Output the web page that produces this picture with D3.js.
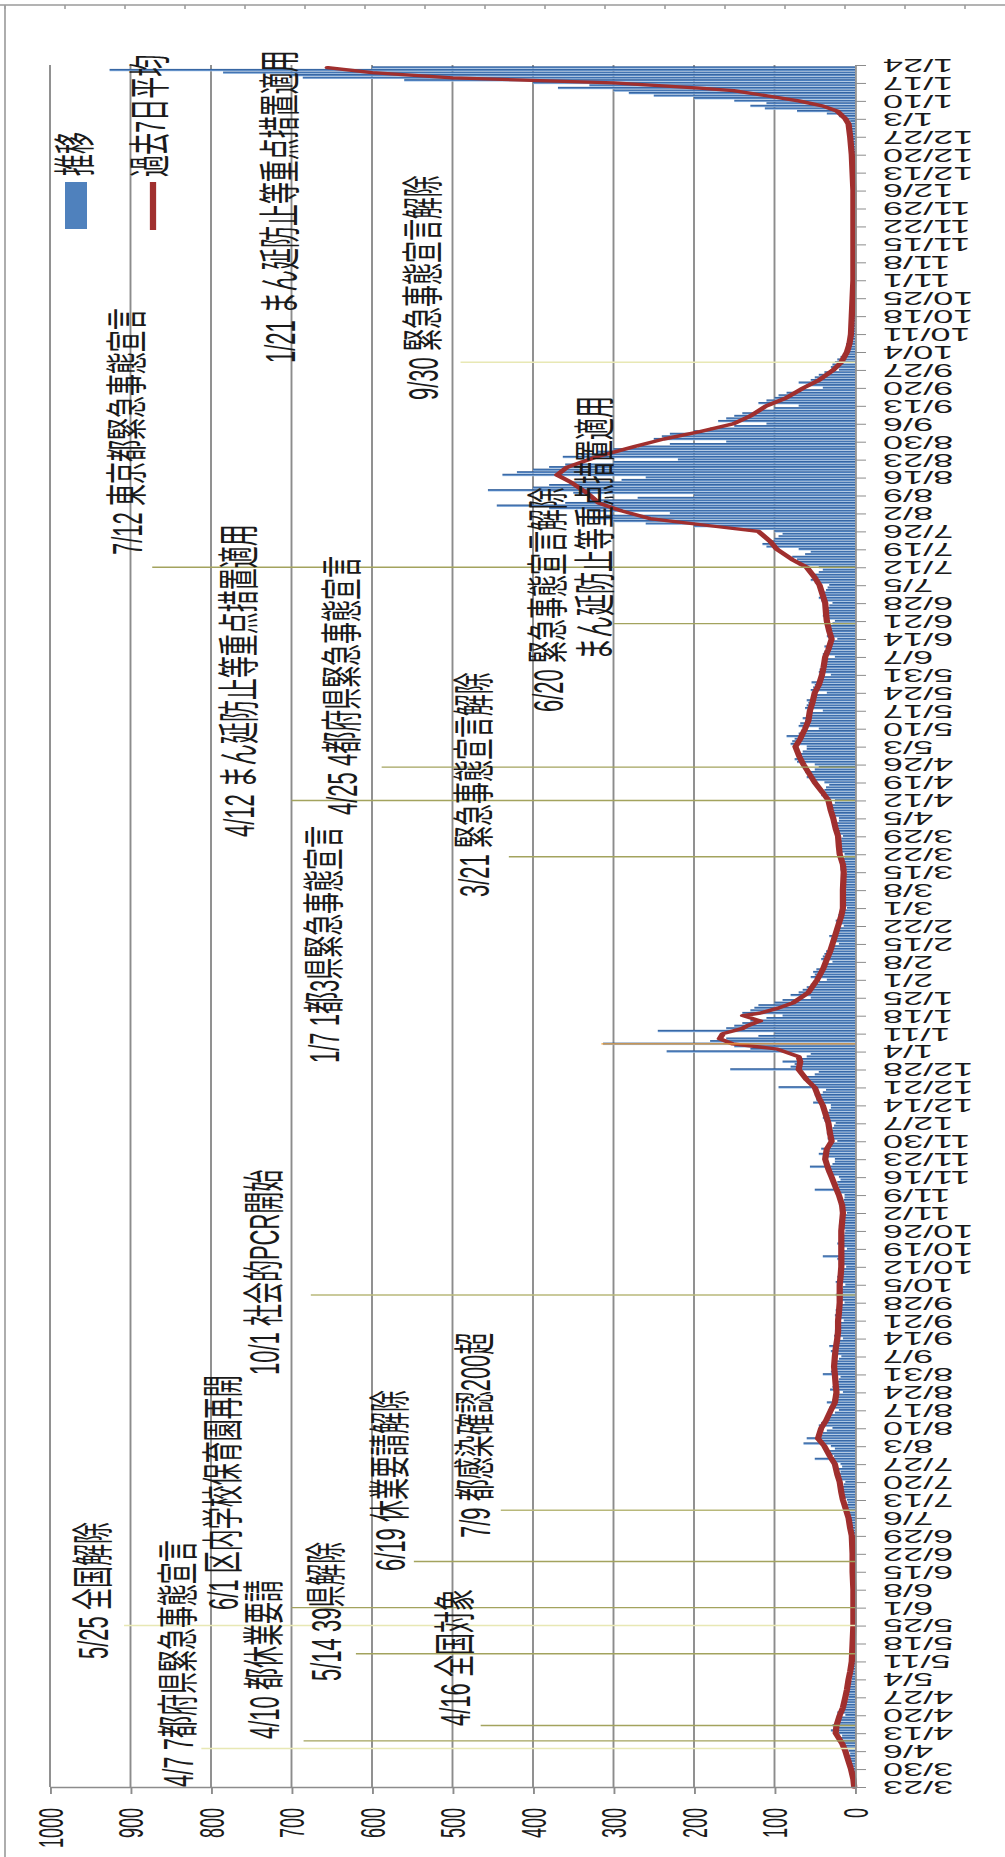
<!DOCTYPE html>
<html><head><meta charset="utf-8">
<script src="https://cdn.jsdelivr.net/npm/d3@7"></script>
<style>body{margin:0;background:#fff}</style>
</head><body>
<svg id="c" width="1005" height="1857"></svg>
<script>
// ---------- DATA ----------
const dailyStart = "2020-03-23";
const dailyCases = [
1,2,1,3,4,2,3, 2,5,6,8,7,9,6, 8,12,15,14,22,18,16, 20,30,26,28,22,19,18, 12,22,19,16,15,12,9,
8,12,10,9,11,7,6, 4,6,8,7,5,6,4, 3,5,4,3,4,2,3, 2,3,2,4,2,1,2, 1,2,3,1,2,2,1,
2,1,3,2,1,3,2, 1,3,2,2,3,1,2, 2,3,4,2,3,4,3, 2,4,3,5,3,4,3, 3,6,5,7,6,8,5,
5,10,9,12,11,13,9, 10,16,18,15,20,17,14, 12,22,20,24,18,21,16, 18,28,50,26,34,32,25, 30,64,45,60,48,40,35,
28,45,42,38,36,30,25, 20,32,30,35,28,25,22, 15,31,28,24,22,20,18, 40,30,28,26,27,24,20, 17,28,30,26,32,22,20,
15,26,24,25,20,22,18, 14,20,25,22,24,21,17, 13,22,20,24,18,20,15, 12,24,20,22,18,21,16, 11,20,18,22,40,15,14,
10,19,22,18,16,18,13, 12,18,20,16,19,17,14, 10,16,14,20,15,14,13, 13,22,50,20,25,22,18, 20,32,35,30,56,28,25,
25,40,45,38,42,35,30, 22,34,30,35,32,28,26, 24,38,40,36,38,32,30, 30,52,48,44,50,40,36, 95,55,60,58,62,50,45,
155,80,75,90,70,60,55, 234,130,150,313,180,160,120, 100,245,160,150,140,130,110, 90,140,130,125,120,100,90, 55,80,70,65,60,55,45,
35,55,50,52,48,40,38, 28,42,40,38,36,32,30, 20,30,28,32,27,25,22, 14,22,24,20,21,18,16, 10,17,16,18,15,14,12,
11,16,18,15,17,14,13, 10,18,16,15,17,14,13, 13,20,22,19,21,20,17, 15,24,26,22,25,23,20, 20,30,32,28,31,30,25,
25,38,42,40,38,36,32, 38,55,60,58,62,50,45, 50,72,75,70,68,65,60, 60,80,78,75,85,70,62, 45,70,68,62,65,58,55,
40,62,60,58,60,52,48, 35,55,52,50,54,46,42, 30,45,44,42,40,38,35, 25,40,38,36,38,34,30, 22,35,34,32,33,30,28,
25,38,40,36,38,34,32, 28,42,45,40,42,36,34, 32,50,55,52,50,45,40, 45,70,75,72,78,62,55, 70,110,115,105,100,95,90,
100,150,200,260,300,330,310, 230,330,380,445,360,330,270, 200,350,456,400,380,350,290, 260,438,420,400,380,360,300, 220,363,340,320,300,270,230,
160,250,240,230,200,180,150, 110,170,160,150,140,120,100, 70,120,110,100,95,85,70, 40,60,70,55,50,45,38, 20,30,28,25,22,18,15,
8,12,10,11,9,8,6, 4,6,5,7,5,4,3, 3,4,5,3,4,3,2, 2,3,4,3,2,3,2, 1,3,2,2,3,2,1,
2,2,3,1,2,2,1, 1,2,2,3,1,2,1, 1,2,1,2,3,1,2, 2,1,3,2,2,3,1, 1,2,2,3,2,1,2,
2,3,2,2,4,3,2, 3,4,5,4,6,5,4, 5,6,8,10,9,7,6, 12,20,35,72,112,130,110, 150,200,250,281,300,369,330,
400,560,686,700,785,926,600
];

const avgDates = [
"2020-03-23","2020-03-26","2020-03-30","2020-04-02","2020-04-06","2020-04-09","2020-04-13","2020-04-16","2020-04-20","2020-04-23",
"2020-04-27","2020-04-30","2020-05-04","2020-05-07","2020-05-11","2020-05-18","2020-05-25","2020-06-01","2020-06-08","2020-06-15",
"2020-06-22","2020-06-29","2020-07-02","2020-07-06","2020-07-09","2020-07-13","2020-07-16","2020-07-20","2020-07-23","2020-07-27",
"2020-07-30","2020-08-03","2020-08-06","2020-08-10","2020-08-13","2020-08-17","2020-08-20","2020-08-24","2020-08-27","2020-08-31",
"2020-09-03","2020-09-07","2020-09-10","2020-09-14","2020-09-17","2020-09-21","2020-09-24","2020-09-28","2020-10-01","2020-10-05",
"2020-10-08","2020-10-12","2020-10-19","2020-10-26","2020-11-02","2020-11-05","2020-11-09","2020-11-12","2020-11-16","2020-11-19",
"2020-11-23","2020-11-27","2020-11-30","2020-12-03","2020-12-07","2020-12-10","2020-12-14","2020-12-17","2020-12-21","2020-12-24",
"2020-12-28","2020-12-31",
"2021-01-02","2021-01-05","2021-01-07","2021-01-09","2021-01-11","2021-01-13","2021-01-14","2021-01-16","2021-01-18","2021-01-19",
"2021-01-21","2021-01-23","2021-01-27","2021-02-01","2021-02-05","2021-02-09","2021-02-12","2021-02-15","2021-02-19","2021-02-22",
"2021-02-26","2021-03-01","2021-03-08","2021-03-15","2021-03-18","2021-03-22","2021-03-25","2021-03-29","2021-04-01","2021-04-05",
"2021-04-08","2021-04-12","2021-04-15","2021-04-19","2021-04-22","2021-04-26","2021-04-29","2021-05-03","2021-05-06","2021-05-10",
"2021-05-13","2021-05-17","2021-05-20","2021-05-24","2021-05-27","2021-05-31","2021-06-03","2021-06-07","2021-06-10","2021-06-14",
"2021-06-17","2021-06-21","2021-06-24","2021-06-28","2021-07-01","2021-07-05","2021-07-08","2021-07-12","2021-07-15","2021-07-19",
"2021-07-22","2021-07-26","2021-07-28","2021-07-31","2021-08-03","2021-08-06","2021-08-10","2021-08-14","2021-08-17","2021-08-20",
"2021-08-24","2021-08-28","2021-08-31","2021-09-03","2021-09-06","2021-09-09","2021-09-13","2021-09-16","2021-09-20","2021-09-23",
"2021-09-27","2021-09-30","2021-10-04","2021-10-07","2021-10-11","2021-10-18","2021-10-25","2021-11-01","2021-11-08","2021-11-15",
"2021-11-22","2021-11-29","2021-12-06","2021-12-13","2021-12-20","2021-12-27",
"2022-01-01","2022-01-03","2022-01-06","2022-01-08","2022-01-10","2022-01-12","2022-01-14","2022-01-15","2022-01-17","2022-01-18",
"2022-01-19","2022-01-21","2022-01-23"
];
const avgValues = [
1,2,5,8,12,16,24,23,19,15, 12,10,8,6,4,3,2,2,2,3, 3,4,6,8,11,15,17,19,22,25, 31,38,46,42,36,30,25,23,24,25,
26,25,24,22,21,21,20,19,19,19, 18,17,17,17,15,16,20,24,29,33, 37,35,29,31,33,36,40,45,50,60, 70,68,
70,97,152,168,164,140,134,118,139,118, 95,77,58,47,40,35,31,28,24,21, 17,15,15,14,15,19,20,21,24,27,
30,33,40,50,56,64,69,74,68,62, 58,56,53,50,45,41,39,37,33,29, 32,35,36,37,40,44,50,60,78,97,
105,120,175,255,290,318,333,352,370,358, 322,275,238,192,151,130,110,86,64,45, 27,17,10,7,5,4,3,2,2,2,
2,2,2,3,4,6,
8,12,22,40,70,110,151,193,300,402, 500,600,655
];

const valueTicks = [0,100,200,300,400,500,600,700,800,900,1000];
const dateTickStart = "2020-03-23";
const dateTickEnd = "2022-01-24";
const dateTickStepDays = 7;

const legendLabels = ["推移", "過去7日平均"];

const annoDates = ["2020-04-07","2020-04-10","2020-04-16","2020-05-14","2020-05-25","2020-06-01","2020-06-19","2020-07-09","2020-10-01",
  "2021-01-07","2021-03-21","2021-04-12","2021-04-25","2021-06-20","2021-07-12","2021-09-30","2022-01-21"];
const annoLabels = ["4/7 7都府県緊急事態宣言","4/10 都休業要請","4/16 全国対象","5/14 39県解除","5/25 全国解除","6/1 区内学校保育園再開",
  "6/19 休業要請解除","7/9 都感染確認200超","10/1 社会的PCR開始","1/7 1都3県緊急事態宣言","3/21 緊急事態宣言解除",
  "4/12 まん延防止等重点措置適用","4/25 4都府県緊急事態宣言","6/20 緊急事態宣言解除\nまん延防止等重点措置適用",
  "7/12 東京都緊急事態宣言","9/30 緊急事態宣言解除","1/21 まん延防止等重点措置適用"];

// ---------- LAYOUT / STYLE ----------
// lineTo: value the marker line reaches; txt: [centerX, bottomY] per label line (page px)
const annoLayout = [
  {lineTo:812, kind:"pale",  txt:[[179,1787]]},
  {lineTo:685, kind:"olive", txt:[[265,1739]]},
  {lineTo:465, kind:"olive", txt:[[456,1726]]},
  {lineTo:620, kind:"olive", txt:[[327,1681]]},
  {lineTo:908, kind:"pale",  txt:[[94,1659]]},
  {lineTo:700, kind:"olive", txt:[[224,1610]]},
  {lineTo:548, kind:"olive", txt:[[391,1571]]},
  {lineTo:440, kind:"olive2",txt:[[476,1538]]},
  {lineTo:676, kind:"olive2",txt:[[265,1375]]},
  {lineTo:315, kind:"orange",txt:[[325,1063]]},
  {lineTo:430, kind:"olive", txt:[[475,897]]},
  {lineTo:700, kind:"olive", txt:[[240,837]]},
  {lineTo:588, kind:"olive", txt:[[343,815]]},
  {lineTo:300, kind:"olive", txt:[[549,712],[596,660]]},
  {lineTo:873, kind:"olive", txt:[[128,555]]},
  {lineTo:490, kind:"pale",  txt:[[424,400]]},
  {lineTo:null,kind:"olive", txt:[[281,363]]}
];
const lineColors = {olive:"#a3a35e", olive2:"#b8b87a", pale:"#e8e8b4", orange:"#f2a23c"};

const SX = 1.9;              // horizontal stretch of the whole picture
const W = 1005, H = 1857;
const X = v => v / SX;       // page x -> inner x
const FONT = "'Liberation Sans', Arial, 'Noto Sans CJK JP', sans-serif";

const svg = d3.select("#c");
svg.append("rect").attr("width", W).attr("height", H).attr("fill", "#fff");
const defs = svg.append("defs");
const grad = defs.append("linearGradient").attr("id","barG").attr("x1",0).attr("y1",0).attr("x2",0).attr("y2",1);
grad.append("stop").attr("offset","0").attr("stop-color","#27548f");
grad.append("stop").attr("offset","0.55").attr("stop-color","#4c7ebd");
grad.append("stop").attr("offset","1").attr("stop-color","#b3cfec");

const g = svg.append("g").attr("transform", `scale(${SX},1)`);

const parse = d3.timeParse("%Y-%m-%d");
const t0 = parse(dateTickStart), t1 = parse(dateTickEnd);
const ys = d3.scaleTime().domain([t0, t1]).range([1787, 65]);
const xs = d3.scaleLinear().domain([0, 1000]).range([X(855), X(50)]);

// outer frame bits
g.append("line").attr("x1",0).attr("x2",X(W)).attr("y1",5).attr("y2",5).attr("stroke","#9a9a9a").attr("stroke-width",1.6);
for (let fx = 5; fx < W; fx += 60) {
  g.append("line").attr("x1",X(fx)).attr("x2",X(fx)).attr("y1",5).attr("y2",9).attr("stroke","#9a9a9a").attr("stroke-width",0.8);
}
g.append("line").attr("x1",X(5)).attr("x2",X(5)).attr("y1",5).attr("y2",H).attr("stroke","#a0a0a0").attr("stroke-width",0.9);

// gridlines
g.append("g").selectAll("line").data(valueTicks.filter(v => v > 0)).join("line")
  .attr("x1", d => xs(d)).attr("x2", d => xs(d)).attr("y1", 65).attr("y2", 1787)
  .attr("stroke", "#8c8c8c").attr("stroke-width", 1);

// bars
const pxDay = (ys(t0) - ys(d3.timeDay.offset(t0, 1)));
const bw = pxDay * 0.95;
const d0 = parse(dailyStart);
const daily = dailyCases.map((v, i) => ({d: d3.timeDay.offset(d0, i), v}));
g.append("g").selectAll("rect").data(daily).join("rect")
  .attr("x", d => xs(d.v)).attr("width", d => xs(0) - xs(d.v))
  .attr("y", d => ys(d.d) - bw / 2).attr("height", bw)
  .attr("fill", "url(#barG)");

// 7-day average line
const avg = avgDates.map((s, i) => ({d: parse(s), v: avgValues[i]}));
g.append("path").datum(avg)
  .attr("d", d3.line().x(d => xs(d.v)).y(d => ys(d.d)))
  .attr("fill", "none").attr("stroke", "#a02f2e").attr("stroke-width", 3.3)
  .attr("stroke-linejoin", "round").attr("stroke-linecap", "round");

// annotation lines
annoDates.forEach((s, i) => {
  const L = annoLayout[i];
  if (L.lineTo == null) return;
  const y = ys(parse(s));
  g.append("line").attr("x1", xs(L.lineTo)).attr("x2", xs(0)).attr("y1", y).attr("y2", y)
    .attr("stroke", lineColors[L.kind]).attr("stroke-width", 1.4);
});

// value axis (bottom)
const ax = g.append("g").attr("transform", "translate(0,1787)")
  .call(d3.axisBottom(xs).tickValues(valueTicks).tickFormat(d3.format("d")).tickSize(7).tickSizeOuter(0));
ax.select(".domain").attr("stroke", "#8c8c8c").attr("stroke-width", 1.4);
ax.selectAll(".tick line").attr("stroke", "#8c8c8c");
ax.selectAll("text").attr("x", 0).attr("y", 0).attr("dy", 0)
  .attr("transform", "translate(0,21) rotate(-90)")
  .attr("text-anchor", "end").attr("dominant-baseline", "central")
  .attr("fill", "#1a1a1a").style("font-size", "18px").style("font-family", FONT);

// date axis (right)
const dateTicks = [];
for (let t = t0; t <= t1; t = d3.timeDay.offset(t, dateTickStepDays)) dateTicks.push(t);
const fmt = d3.timeFormat("%-m/%-d");
const ay = g.append("g").attr("transform", `translate(${xs(0)},0)`)
  .call(d3.axisRight(ys).tickValues(dateTicks).tickFormat(fmt).tickSize(X(11)).tickSizeOuter(0));
ay.select(".domain").attr("stroke", "#8c8c8c").attr("stroke-width", 0.9);
ay.selectAll(".tick line").attr("stroke", "#8c8c8c").attr("stroke-width", 1);
ay.selectAll("text").attr("x", 0).attr("y", 0).attr("dy", 0)
  .attr("transform", `translate(${X(883) - xs(0)},0) rotate(180)`)
  .attr("text-anchor", "end").attr("dominant-baseline", "central")
  .attr("fill", "#1a1a1a").style("font-size", "19px").style("font-family", FONT);

// annotation texts
annoLabels.forEach((lab, i) => {
  const parts = lab.split("\n");
  parts.forEach((p, j) => {
    const [cx, by] = annoLayout[i].txt[j];
    g.append("text").text(p)
      .attr("transform", `translate(${X(cx)},${by}) rotate(-90)`)
      .attr("text-anchor", "start").attr("dominant-baseline", "central")
      .attr("fill", "#1a1a1a").style("font-size", "22px").style("font-family", FONT);
  });
});

// legend
g.append("rect").attr("x", X(65)).attr("width", X(22)).attr("y", 182).attr("height", 47).attr("fill", "#4f81bd");
g.append("text").text(legendLabels[0])
  .attr("transform", `translate(${X(76)},176) rotate(-90)`)
  .attr("text-anchor", "start").attr("dominant-baseline", "central")
  .attr("fill", "#1a1a1a").style("font-size", "22px").style("font-family", FONT);
g.append("line").attr("x1", X(153)).attr("x2", X(153)).attr("y1", 182).attr("y2", 230)
  .attr("stroke", "#a02f2e").attr("stroke-width", 3.3);
g.append("text").text(legendLabels[1])
  .attr("transform", `translate(${X(151)},177) rotate(-90)`)
  .attr("text-anchor", "start").attr("dominant-baseline", "central")
  .attr("fill", "#1a1a1a").style("font-size", "22px").style("font-family", FONT);
</script>
</body></html>
